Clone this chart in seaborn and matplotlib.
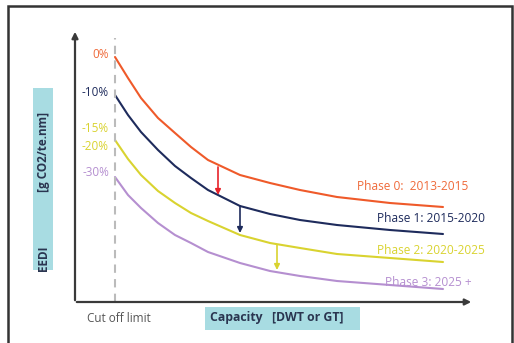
import matplotlib
matplotlib.use("Agg")
import matplotlib.pyplot as plt
from matplotlib.patches import Rectangle
import pandas as pd
import seaborn as sns

# capacity (arbitrary units) and EEDI reference lines
capacity = [40, 53, 66, 83, 100, 116, 133, 165, 195, 225, 262, 315, 368]
phase0 = [245, 224, 204, 184, 169, 155, 142, 127, 119, 112, 105, 99, 95]
phase1 = [207, 187, 170, 152, 136, 124, 112, 96, 88, 82, 77, 72, 68]
phase2 = [162, 143, 127, 111, 99, 89, 81, 67, 59, 54, 48, 44, 40]
phase3 = [125, 107, 94, 79, 67, 59, 50, 39, 31, 26, 21, 17, 13]

phase_names = ["Phase 0:  2013-2015", "Phase 1: 2015-2020",
               "Phase 2: 2020-2025", "Phase 3: 2025 +"]
start_labels = ["0%", "-10%", "-15%", "-20%", "-30%"]
start_values = [247, 210, 174, 156, 129]

# reduction arrows: capacity, from, to
arrow_x = [143, 165, 202]
arrow_from = [135, 96, 57]
arrow_to = [107, 69, 32]

cutoff = 40

colors = ["#ef5a2a", "#1e2b5c", "#d9d330", "#b58fd0"]
label_colors = ["#ef6a3a", "#1e2b5c", "#d9d330", "#d9d330", "#b58fd0"]
arrow_colors = ["#e8232a", "#1e2b5c", "#d9d330"]

df = pd.DataFrame({
    "capacity": capacity * 4,
    "eedi": phase0 + phase1 + phase2 + phase3,
    "phase": sum([[p] * len(capacity) for p in phase_names], []),
})

sns.set_style("white")
plt.rcParams["font.family"] = ["Open Sans", "DejaVu Sans"]

fig = plt.figure(figsize=(5.14, 3.43), dpi=100)
ax = fig.add_axes([0, 0, 1, 1])
ax.set_xlim(-75, 439)
ax.set_ylim(-41, 302)
ax.axis("off")

# outer frame (left, top, right)
ax.plot([-67, -67, 437, 437], [-45, 296, 296, -45], color="#333333", lw=1.8,
        solid_joinstyle="miter")

sns.lineplot(data=df, x="capacity", y="eedi", hue="phase", palette=colors,
             lw=1.5, legend=False, ax=ax)

# axes with arrows
ax.annotate("", xy=(0, 273), xytext=(0, -1),
            arrowprops=dict(arrowstyle="-|>", color="#3a3a3a", lw=1.6, mutation_scale=9))
ax.annotate("", xy=(399, 0), xytext=(-1, 0),
            arrowprops=dict(arrowstyle="-|>", color="#3a3a3a", lw=1.6, mutation_scale=9))

# cut off limit
ax.plot([cutoff, cutoff], [0, 264], ls=(0, (4, 3)), color="#bbbbbb", lw=1.5)
ax.text(12, -16, "Cut off limit", color="#555555", fontsize=8.5, va="center")

for x, y0, y1, c in zip(arrow_x, arrow_from, arrow_to, arrow_colors):
    ax.annotate("", xy=(x, y1), xytext=(x, y0),
                arrowprops=dict(arrowstyle="-|>", color=c, lw=1.2, mutation_scale=8,
                                shrinkA=0, shrinkB=0))

for lab, y, c in zip(start_labels, start_values, label_colors):
    ax.text(34, y, lab, color=c, fontsize=8.5, ha="right", va="center")

phase_pos = [(282, 116), (302, 84), (302, 52), (310, 20)]
phase_text_colors = ["#ef6a3a", "#1e2b5c", "#d9d330", "#b58fd0"]
for name, (x, y), c in zip(phase_names, phase_pos, phase_text_colors):
    ax.text(x, y, name, color=c, fontsize=8.6, va="center", ha="left")

# axis label boxes
ax.add_patch(Rectangle((-42, 32), 20, 182, color="#a8dce2", lw=0))
ax.text(-32, 44, "EEDI", rotation=90, ha="center", va="center",
        fontsize=8.5, fontweight="bold", color="#2a3550")
ax.text(-32, 150, "[g CO2/te.nm]", rotation=90, ha="center", va="center",
        fontsize=8.5, fontweight="bold", color="#2a3550")

ax.add_patch(Rectangle((130, -28), 155, 23, color="#a8dce2", lw=0))
ax.text(135, -16, "Capacity   [DWT or GT]", ha="left", va="center",
        fontsize=8.8, fontweight="bold", color="#2a3550")

fig.savefig("out.png", dpi=100)
